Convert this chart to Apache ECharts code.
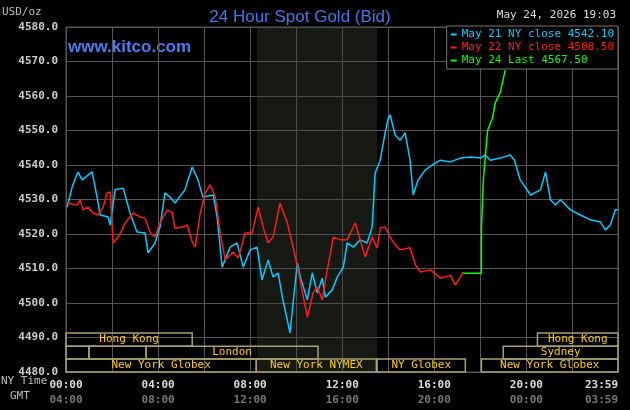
<!DOCTYPE html>
<html><head><meta charset="utf-8">
<script src="https://cdn.jsdelivr.net/npm/echarts@6/dist/echarts.min.js"></script>
<style>html,body{margin:0;background:#000}#c{width:630px;height:410px}</style>
</head><body><div id="c"></div>
<script>
// minutes from 00:00 NY time, price USD/oz
var may21Time = [3,16,31,42,68,81,89,110,115,128,149,167,185,206,214,232,245,258,271,284,310,329,344,357,384,394,407,428,446,462,480,498,511,527,540,553,564,584,592,603,611,629,642,655,668,676,694,707,723,733,749,767,785,798,806,819,832,840,845,858,871,884,897,905,918,937,955,976,1002,1028,1054,1080,1093,1106,1132,1158,1169,1184,1211,1237,1250,1263,1276,1289,1315,1341,1367,1393,1406,1419,1432,1440];
var may21Price = [4527.8,4533.6,4538.0,4535.7,4538.0,4530.7,4525.5,4524.9,4522.6,4532.8,4533.3,4526.1,4520.6,4520.3,4514.5,4517.4,4522.0,4531.9,4530.7,4529.0,4532.8,4539.4,4535.7,4530.7,4531.3,4524.9,4510.4,4516.2,4517.4,4510.4,4515.4,4516.2,4506.7,4512.5,4507.5,4508.7,4501.7,4491.3,4500.0,4511.6,4507.5,4500.9,4508.7,4502.9,4507.2,4501.7,4503.8,4507.5,4510.4,4517.4,4516.2,4518.3,4517.4,4522.0,4537.7,4541.4,4549.3,4553.6,4554.5,4548.7,4547.2,4549.3,4541.4,4531.3,4535.7,4538.6,4540.0,4541.4,4540.9,4542.0,4542.3,4542.0,4542.9,4541.4,4542.0,4542.9,4541.4,4535.7,4531.3,4532.8,4538.0,4529.9,4528.4,4529.9,4527.0,4525.5,4524.1,4523.5,4521.2,4522.6,4527.0,4527.0];
var may22Time = [3,29,37,44,57,70,83,97,107,115,123,136,146,154,167,175,193,206,219,232,245,264,277,284,305,316,329,337,350,363,376,389,402,415,436,449,467,485,501,514,527,540,558,577,592,605,629,644,655,668,681,697,715,733,754,780,798,811,819,832,845,858,871,897,911,924,950,976,1002,1015,1036];
var may22Price = [4529.0,4528.4,4529.9,4527.0,4527.8,4526.1,4525.5,4527.8,4531.9,4532.2,4517.4,4519.1,4521.2,4523.2,4524.9,4526.1,4524.9,4524.6,4520.6,4519.1,4523.2,4527.0,4526.1,4521.7,4522.0,4522.6,4517.7,4516.2,4526.1,4531.9,4534.2,4530.7,4520.3,4512.5,4514.8,4513.0,4520.3,4520.3,4527.8,4522.0,4517.4,4519.1,4529.0,4523.2,4516.2,4509.6,4495.9,4502.9,4504.6,4500.9,4509.6,4519.1,4518.3,4518.3,4523.2,4513.3,4519.1,4515.9,4521.7,4522.0,4519.1,4516.8,4515.4,4516.0,4511.0,4509.0,4509.6,4507.2,4508.0,4505.2,4509.0];
var may24Time = [1036,1083,1083,1088,1099,1112,1119,1132,1145];
var may24Price = [4508.6,4508.6,4521.7,4535.7,4550.0,4553.6,4558.0,4561.0,4567.5];

var seriesNames = ['May 21 NY close 4542.10', 'May 22 NY close 4508.50', 'May 24 Last 4567.50'];
var seriesColors = ['#00ccff', '#ff1a1a', '#00ff00'];

var nyLabels = {0:'00:00',240:'04:00',480:'08:00',720:'12:00',960:'16:00',1200:'20:00',1439:'23:59'};
var gmtLabels = {0:'04:00',240:'08:00',480:'12:00',720:'16:00',960:'20:00',1200:'00:00',1439:'03:59'};

// trading sessions: name, start, end (minutes), row
var sessName = ['Hong Kong','Hong Kong','','','London','Sydney','New York Globex','New York NYMEX','NY Globex','New York Globex'];
var sessStart = [0,1229,0,60,209,1140,0,496,811,1083];
var sessEnd = [329,1439,60,209,657,1439,496,809,1041,1439];
var sessRow = [0,0,1,1,1,1,2,2,2,2];
var rowTop = [4491.3,4487.5,4483.8];
var rowBottom = [4487.5,4483.8,4480.0];

var mono = 'DejaVu Sans Mono';
function pairs(t, p) { return t.map(function (v, i) { return [v, p[i]]; }); }

var sessAreas = sessName.map(function (n, i) {
  return [{ xAxis: sessStart[i], yAxis: rowTop[sessRow[i]], name: n },
          { xAxis: sessEnd[i], yAxis: rowBottom[sessRow[i]] }];
});

var chart = echarts.init(document.getElementById('c'));
chart.setOption({
  backgroundColor: '#000',
  animation: false,
  title: {
    text: '24 Hour Spot Gold (Bid)', left: 295, textAlign: 'center', top: 4,
    textStyle: { color: '#4575e8', fontSize: 17, fontWeight: 'normal', fontFamily: 'Liberation Sans' }
  },
  graphic: [
    { type: 'text', left: 68, top: 39, style: { text: 'www.kitco.com', fill: '#4a7cf0', font: 'bold 17px Liberation Sans' } },
    { type: 'text', left: 2, top: 7, style: { text: 'USD/oz', fill: '#bbb', font: '11px ' + mono } },
    { type: 'text', right: 14, top: 10, style: { text: 'May 24, 2026 19:03', fill: '#ddd', font: '11px ' + mono } },
    { type: 'text', left: 1, top: 376, style: { text: 'NY Time', fill: '#bbb', font: '11px ' + mono } },
    { type: 'text', left: 10, top: 391, style: { text: 'GMT', fill: '#bbb', font: '11px ' + mono } }
  ],
  legend: {
    right: 12, top: 26, orient: 'vertical', itemGap: 2, itemWidth: 6, itemHeight: 2,
    icon: 'rect', backgroundColor: '#000', borderColor: '#777', borderWidth: 1, padding: [3, 4],
    data: seriesNames.map(function (n, i) {
      return { name: n, textStyle: { color: seriesColors[i], fontFamily: mono, fontSize: 11 } };
    })
  },
  grid: { left: 66, right: 12, top: 27, bottom: 38, outerBoundsMode: 'none', show: true, borderColor: '#555', borderWidth: 1 },
  xAxis: {
    type: 'value', min: 0, max: 1439, interval: 120,
    axisLine: { show: false }, axisTick: { show: false },
    splitLine: { lineStyle: { color: '#555' } },
    axisLabel: {
      customValues: [0, 240, 480, 720, 960, 1200, 1439], margin: 6, alignMaxLabel: 'right',
      formatter: function (v) { return nyLabels[v] + '\n{g|' + gmtLabels[v] + '}'; },
      color: '#ddd', fontFamily: mono, fontSize: 11, fontWeight: 'bold', lineHeight: 15,
      rich: { g: { color: '#777', fontFamily: mono, fontSize: 11, fontWeight: 'bold' } }
    }
  },
  yAxis: {
    type: 'value', min: 4480, max: 4580, interval: 10,
    axisLine: { show: true, lineStyle: { color: '#555' } }, axisTick: { show: false },
    splitLine: { lineStyle: { color: '#555' } },
    axisLabel: { formatter: function (v) { return v.toFixed(1); }, color: '#ccc', fontFamily: mono, fontSize: 11, fontWeight: 'bold' }
  },
  series: [
    {
      name: 'shade', type: 'line', data: [], silent: true,
      markArea: { silent: true, itemStyle: { color: 'rgba(60,70,55,0.35)' }, data: [[{ xAxis: 498 }, { xAxis: 811 }]] }
    },
    { name: seriesNames[0], type: 'line', data: pairs(may21Time, may21Price), symbol: 'none', lineStyle: { width: 1.5, color: seriesColors[0] }, itemStyle: { color: seriesColors[0] } },
    { name: seriesNames[1], type: 'line', data: pairs(may22Time, may22Price), symbol: 'none', lineStyle: { width: 1.5, color: seriesColors[1] }, itemStyle: { color: seriesColors[1] } },
    { name: seriesNames[2], type: 'line', data: pairs(may24Time, may24Price), symbol: 'none', lineStyle: { width: 1.5, color: seriesColors[2] }, itemStyle: { color: seriesColors[2] } },
    {
      name: 'sessions', type: 'line', data: [], silent: true, z: 5,
      markArea: {
        silent: true,
        itemStyle: { color: 'rgba(0,0,0,0)', borderColor: '#a8a070', borderWidth: 1.5 },
        label: { position: 'inside', color: '#ffcc00', fontFamily: mono, fontSize: 11 },
        data: sessAreas
      }
    }
  ]
});
</script></body></html>
